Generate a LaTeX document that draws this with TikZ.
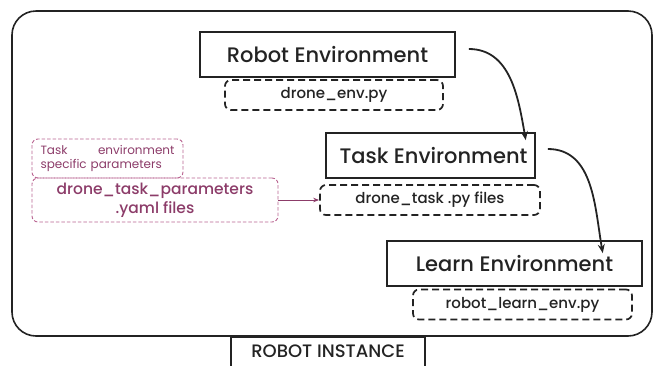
\documentclass[tikz,border=0pt]{standalone}
\usepackage{fontspec}
\setmainfont{Poppins Medium}
\newfontfamily\lightfont{Poppins}
\usetikzlibrary{arrows.meta}
\definecolor{ink}{RGB}{35,35,35}
\definecolor{mauve}{RGB}{140,60,105}
\definecolor{mauveline}{RGB}{185,100,145}
\tikzset{
  envbox/.style={draw=ink, line width=1.6pt, minimum height=45pt, inner sep=0pt, text=ink, font=\fontsize{21}{24}\selectfont},
  filebox/.style={draw=ink, line width=1.7pt, dash pattern=on 7pt off 4pt, rounded corners=6pt, minimum height=30pt, inner sep=0pt, text=ink, font=\fontsize{15}{17}\selectfont},
  parambox/.style={draw=mauveline, line width=0.9pt, dash pattern=on 3.5pt off 2pt, rounded corners=6pt, inner sep=0pt, text=mauve},
  flow/.style={-{Stealth[length=9pt,width=7pt,inset=3pt]}, line width=1.8pt, draw=ink},
}
\begin{document}
\begin{tikzpicture}[x=1pt,y=-1pt]
  \useasboundingbox (0,0) rectangle (654,365);
  \clip (0,0) rectangle (654,365);
  % outer frame of the robot instance
  \draw[line width=1.6pt, draw=ink, rounded corners=24pt] (12,11) rectangle (652,336);
  \node[draw=ink, line width=1.6pt, minimum width=194pt, minimum height=44pt, anchor=north, inner sep=0pt] (inst) at (328,336) {};
  \node[text=ink, font=\fontsize{18}{20}\selectfont] (instlabel) at (328,351) {ROBOT INSTANCE};

  % environments
  \node[envbox, minimum width=255pt] (robot) at (327.5,54.5) {Robot Environment};
  \node[filebox, minimum width=218pt] (robotfile) at (334,95) {drone\_env.py};

  \node[envbox, minimum width=209pt] (task) at (430.5,155.5) {\hspace{6pt}Task Environment};
  \node[filebox, minimum width=220pt] (taskfile) at (430,200) {drone\_task .py files};

  \node[envbox, minimum width=255pt] (learn) at (514.5,263.5) {Learn Environment};
  \node[filebox, minimum width=219pt] (learnfile) at (522.5,304.5) {robot\_learn\_env.py};

  % task parameters
  \node[parambox, minimum width=151pt, minimum height=39pt, align=left, font=\lightfont\fontsize{12}{14}\selectfont, text width=134pt] (paramnote) at (107.5,158.5) {Task\hfill environment\\specific parameters};
  \node[parambox, minimum width=246pt, minimum height=44pt, align=center, font=\fontsize{15.5}{19}\selectfont] (paramfile) at (155,200) {drone\_task\_parameters\\.yaml files};

  % connectors
  \draw[-{Stealth[length=6pt,width=4.5pt]}, line width=1pt, draw=mauve] (paramfile.east) -- (taskfile.west);
  \draw[flow] ([xshift=13pt,yshift=5.5pt]robot.east) to[out=0,in=100] ([xshift=-10pt,yshift=-8pt]task.north east);
  \draw[flow] ([xshift=12pt,yshift=6.5pt]task.east) to[out=0,in=100] ([xshift=-40pt,yshift=-13pt]learn.north east);
\end{tikzpicture}
\end{document}
